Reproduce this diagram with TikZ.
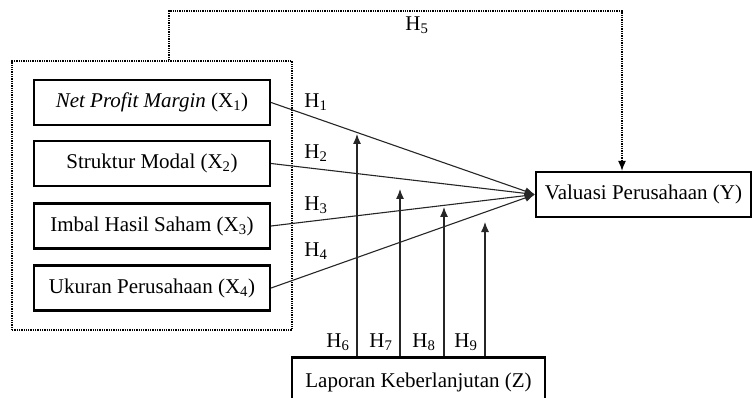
\documentclass[tikz,border=0pt]{standalone}
\usepackage{fontspec}
\setmainfont{Liberation Serif}
\usetikzlibrary{arrows.meta}

\tikzset{
  varbox/.style={draw=black,line width=2.2pt,minimum height=45pt,inner sep=0pt,font=\fontsize{21}{23}\selectfont},
  hlabel/.style={inner sep=0pt,font=\fontsize{21}{23}\selectfont},
  path/.style={draw=black!85,line width=1.1pt,-{Latex[length=10pt,width=8pt]}},
  modpath/.style={draw=black!85,line width=1.1pt,-{Latex[length=10pt,width=8pt]}}
}

\begin{document}
\begin{tikzpicture}[x=1pt,y=-1pt]
\clip (0,0) rectangle (752,398);

% group of independent variables
\node[draw=black,line width=1.3pt,densely dotted,minimum width=280pt,minimum height=269pt,inner sep=0pt] (grp) at (152,195.5) {};

\node[varbox,minimum width=236pt] (X1) at (152,102.5) {\textit{Net Profit Margin} (X\textsubscript{1})};
\node[varbox,minimum width=236pt] (X2) at (152,163.5) {Struktur Modal (X\textsubscript{2})};
\node[varbox,minimum width=236pt] (X3) at (152,226) {Imbal Hasil Saham (X\textsubscript{3})};
\node[varbox,minimum width=236pt] (X4) at (152,288) {Ukuran Perusahaan (X\textsubscript{4})};

\node[varbox,minimum width=215pt] (Y) at (643.5,194.5) {Valuasi Perusahaan (Y)};
\node[varbox,minimum width=253pt,text depth=0pt] (Z) at (418.5,380) {Laporan Keberlanjutan (Z)};

% direct effects
\draw[path] (X1.east) -- (Y.west);
\draw[path] (X2.east) -- (Y.west);
\draw[path] (X3.east) -- (Y.west);
\draw[path] (X4.east) -- (Y.west);

% simultaneous effect
\coordinate (h5a) at (169,11);
\coordinate (h5b) at (622,11);
\draw[draw=black,line width=1.3pt,densely dotted,-{Latex[length=10pt,width=8pt]}] (grp.north -| h5a) -- (h5a) -- (h5b) -- (Y.north -| h5b);

% moderation
\coordinate (m6) at (357,134);
\coordinate (m7) at (400,189);
\coordinate (m8) at (444,207);
\coordinate (m9) at (485,222);
\draw[modpath] (Z.north -| m6) -- (m6);
\draw[modpath] (Z.north -| m7) -- (m7);
\draw[modpath] (Z.north -| m8) -- (m8);
\draw[modpath] (Z.north -| m9) -- (m9);

% hypothesis labels
\node[hlabel] (H1) at (316,102) {H\textsubscript{1}};
\node[hlabel] (H2) at (316,153) {H\textsubscript{2}};
\node[hlabel] (H3) at (316,205) {H\textsubscript{3}};
\node[hlabel] (H4) at (316,251) {H\textsubscript{4}};
\node[hlabel] (H5) at (417,25) {H\textsubscript{5}};
\node[hlabel] (H6) at (338,342) {H\textsubscript{6}};
\node[hlabel] (H7) at (381,342) {H\textsubscript{7}};
\node[hlabel] (H8) at (424,342) {H\textsubscript{8}};
\node[hlabel] (H9) at (466,342) {H\textsubscript{9}};

\end{tikzpicture}
\end{document}
